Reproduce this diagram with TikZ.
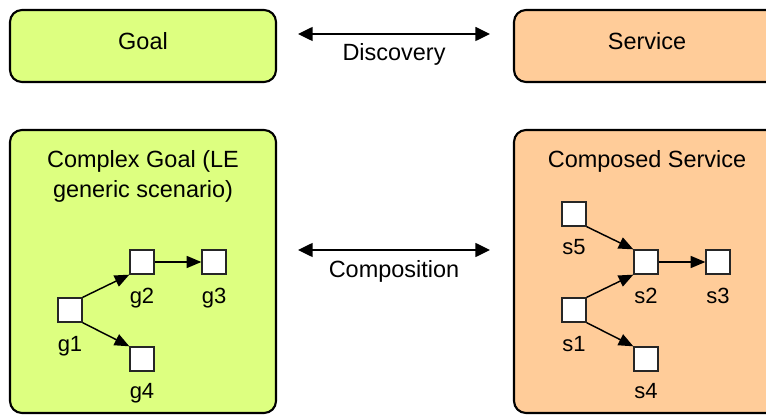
\documentclass[tikz,border=0pt]{standalone}
\usepackage{fontspec}
\setmainfont{Liberation Sans}
\usetikzlibrary{arrows.meta}
\definecolor{goalgreen}{HTML}{DDFF80}
\definecolor{serviceorange}{HTML}{FFCC99}
\begin{document}
\begin{tikzpicture}[x=0.75pt,y=-0.75pt,
  panel/.style={draw=black,line width=1.6pt,rounded corners=9pt},
  txt/.style={inner sep=0pt,anchor=base,font=\fontsize{17.6}{22.5}\selectfont,align=center},
  lbl/.style={inner sep=0pt,anchor=base,font=\fontsize{16.5}{20}\selectfont},
  task/.style={draw=black!85,fill=white,line width=1pt,minimum size=18pt,inner sep=0pt},
  flow/.style={line width=1.1pt,-{Triangle[length=11pt,width=9pt]}},
  relation/.style={line width=1.1pt,{Triangle[length=11pt,width=10.5pt]}-{Triangle[length=11pt,width=10.5pt]}}]
\clip (0,0) rectangle (766,416);

% panels
\draw[panel,fill=goalgreen] (10,10) rectangle (276,82);
\draw[panel,fill=serviceorange] (514,10) rectangle (780,82);
\draw[panel,fill=goalgreen] (10,130) rectangle (276,413);
\draw[panel,fill=serviceorange] (514,130) rectangle (780,413);

\node[txt] (goal) at (143,50) {Goal};
\node[txt] (service) at (647,50) {Service};
\node[txt] (cgoal) at (143,198) {Complex Goal (LE\\generic scenario)};
\node[txt] (cservice) at (647,168) {Composed Service};

% relations between the two sides
\coordinate (dl) at (298,34);
\coordinate (dr) at (490,34);
\draw[relation] (dl) -- (dr);
\node[txt] (disc) at (394,61) {Discovery};
\coordinate (cl) at (298,250);
\coordinate (cr) at (490,250);
\draw[relation] (cl) -- (cr);
\node[txt] (comp) at (394,277) {Composition};

% goal decomposition
\node[task] (g1) at (70,310) {};
\node[task] (g2) at (142,262) {};
\node[task] (g3) at (214,262) {};
\node[task] (g4) at (142,359) {};
\node[lbl] at (70,351) {g1};
\node[lbl] at (142,303) {g2};
\node[lbl] at (214,303) {g3};
\node[lbl] at (142,398) {g4};
\draw[flow] (g1.north east) -- (g2.south west);
\draw[flow] (g1.south east) -- (g4.north west);
\draw[flow] (g2.east) -- (g3.west);

% service composition
\node[task] (s5) at (574,214) {};
\node[task] (s2) at (646,262) {};
\node[task] (s3) at (718,262) {};
\node[task] (s1) at (574,310) {};
\node[task] (s4) at (646,359) {};
\node[lbl] at (574,255) {s5};
\node[lbl] at (646,303) {s2};
\node[lbl] at (718,303) {s3};
\node[lbl] at (574,351) {s1};
\node[lbl] at (646,398) {s4};
\draw[flow] (s5.south east) -- (s2.north west);
\draw[flow] (s1.north east) -- (s2.south west);
\draw[flow] (s1.south east) -- (s4.north west);
\draw[flow] (s2.east) -- (s3.west);
\end{tikzpicture}
\end{document}
